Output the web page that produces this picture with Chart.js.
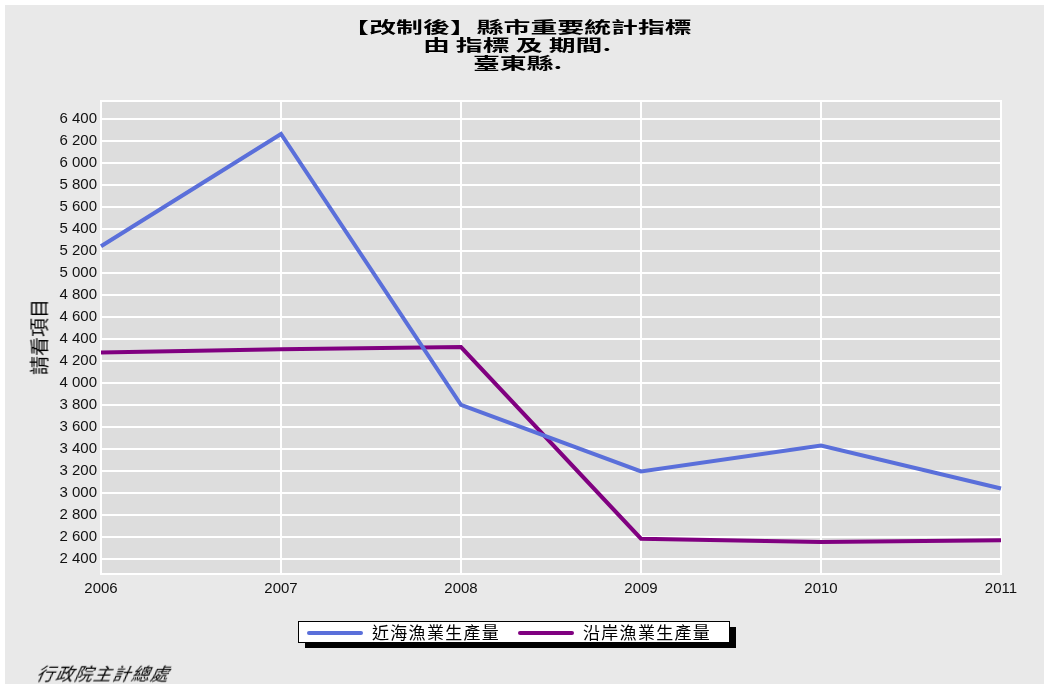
<!DOCTYPE html>
<html><head><meta charset="utf-8">
<script src="https://cdn.jsdelivr.net/npm/chart.js@4.4.1/dist/chart.umd.min.js"></script>
<style>
html,body{margin:0;padding:0;background:#fff;}
#wrap{position:relative;width:1049px;height:689px;overflow:hidden;background:#fff;}
#frame{position:absolute;left:5px;top:5px;width:1039px;height:679px;background:#e9e9e9;}
#c{position:absolute;left:0;top:0;}
.t{position:absolute;left:-7px;width:1049px;text-align:center;font-family:"Noto Sans CJK TC","Noto Sans CJK SC",sans-serif;font-weight:bold;font-size:16px;line-height:17px;color:#000;}
.t span{display:inline-block;transform:scaleX(1.68);transform-origin:center;}
#ytitle{position:absolute;left:38px;top:337px;transform:translate(-50%,-50%) rotate(-90deg);font-family:"Noto Sans CJK TC",sans-serif;font-size:19px;color:#000;white-space:nowrap;}
#foot{position:absolute;left:37px;top:660px;font-family:"Noto Sans CJK TC",sans-serif;font-size:18px;letter-spacing:1px;font-style:italic;transform:skewX(-12deg);transform-origin:left;color:#000;}
#legshadow{position:absolute;left:305px;top:627px;width:431px;height:21px;background:#000;}
#legend{position:absolute;left:298px;top:621px;width:430px;height:20px;background:#fff;border:1px solid #000;font-family:"Noto Sans CJK TC",sans-serif;font-size:17px;line-height:20px;}
.li{position:absolute;top:0;white-space:nowrap;}
.sw{position:absolute;top:9px;height:4px;border-radius:2px;}
</style></head>
<body>
<div id="wrap">
<div id="frame"></div>
<canvas id="c" width="1049" height="689"></canvas>
<div class="t" style="top:18px"><span id="t1"></span></div>
<div class="t" style="top:36px"><span id="t2"></span></div>
<div class="t" style="top:54px"><span id="t3"></span></div>
<div id="ytitle"></div>
<div id="legshadow"></div>
<div id="legend"></div>
<div id="foot"></div>
</div>
<script>
const titleLines = ['【改制後】縣市重要統計指標', '由 指標 及 期間.', '臺東縣.'];
const yAxisTitle = '請看項目';
const footerText = '行政院主計總處';
const years = ['2006', '2007', '2008', '2009', '2010', '2011'];
const seriesNames = ['近海漁業生產量', '沿岸漁業生產量'];
const offshore = [5240, 6260, 3800, 3195, 3430, 3040];
const coastal = [4275, 4305, 4325, 2585, 2555, 2570];
const yTickValues = [2400, 2600, 2800, 3000, 3200, 3400, 3600, 3800, 4000, 4200, 4400, 4600, 4800, 5000, 5200, 5400, 5600, 5800, 6000, 6200, 6400];
const seriesColors = ['#5a6fda', '#800080'];
const yMin = 2264, yMax = 6559;

document.getElementById('t1').textContent = titleLines[0];
document.getElementById('t2').textContent = titleLines[1];
document.getElementById('t3').textContent = titleLines[2];
document.getElementById('ytitle').textContent = yAxisTitle;
document.getElementById('foot').textContent = footerText;

const legend = document.getElementById('legend');
const legPos = [[8, 73], [219, 284]];
seriesNames.forEach((n, i) => {
  const sw = document.createElement('div');
  sw.className = 'sw';
  sw.style.left = legPos[i][0] + 'px';
  sw.style.width = '56px';
  sw.style.background = seriesColors[i];
  legend.appendChild(sw);
  const tx = document.createElement('div');
  tx.className = 'li';
  tx.style.left = legPos[i][1] + 'px';
  tx.style.letterSpacing = '1.3px';
  tx.textContent = n;
  legend.appendChild(tx);
});

const plotBg = {
  id: 'plotBg',
  beforeDraw(chart) {
    const a = chart.chartArea, ctx = chart.ctx;
    ctx.save();
    ctx.fillStyle = '#dddddd';
    ctx.fillRect(a.left, a.top, a.right - a.left, a.bottom - a.top);
    ctx.restore();
  },
  beforeDatasetsDraw(chart) {
    const a = chart.chartArea, ctx = chart.ctx;
    ctx.save();
    ctx.strokeStyle = '#ffffff';
    ctx.lineWidth = 2;
    ctx.strokeRect(a.left, a.top, a.right - a.left, a.bottom - a.top);
    ctx.restore();
  }
};

const fmt = v => String(Math.round(v)).replace(/\B(?=(\d{3})+(?!\d))/g, ' ');

new Chart(document.getElementById('c'), {
  type: 'line',
  data: {
    labels: years,
    datasets: [
      { label: seriesNames[0], data: offshore, borderColor: seriesColors[0], backgroundColor: seriesColors[0], borderWidth: 4, pointRadius: 0, tension: 0, fill: false },
      { label: seriesNames[1], data: coastal, borderColor: seriesColors[1], backgroundColor: seriesColors[1], borderWidth: 4, pointRadius: 0, tension: 0, fill: false }
    ]
  },
  options: {
    responsive: false,
    animation: false,
    layout: { padding: { left: 0, top: 101, right: 48, bottom: 95 } },
    plugins: { legend: { display: false }, title: { display: false }, tooltip: { enabled: false } },
    scales: {
      x: {
        offset: false,
        grid: { color: '#ffffff', lineWidth: 2, drawTicks: false, offset: false },
        border: { display: false },
        ticks: { color: '#111', font: { family: 'Liberation Sans', size: 15 }, padding: 6, maxRotation: 0, autoSkip: false },
        afterFit(s) { s.height = 20; }
      },
      y: {
        min: yMin, max: yMax,
        grid: { color: '#ffffff', lineWidth: 2, drawTicks: false },
        border: { display: false },
        ticks: { color: '#111', font: { family: 'Liberation Sans', size: 15 }, padding: 4, autoSkip: false, callback: v => fmt(v) },
        afterBuildTicks(s) { s.ticks = yTickValues.map(v => ({ value: v })); },
        afterFit(s) { s.width = 101; }
      }
    }
  },
  plugins: [plotBg]
});
</script>
</body></html>
